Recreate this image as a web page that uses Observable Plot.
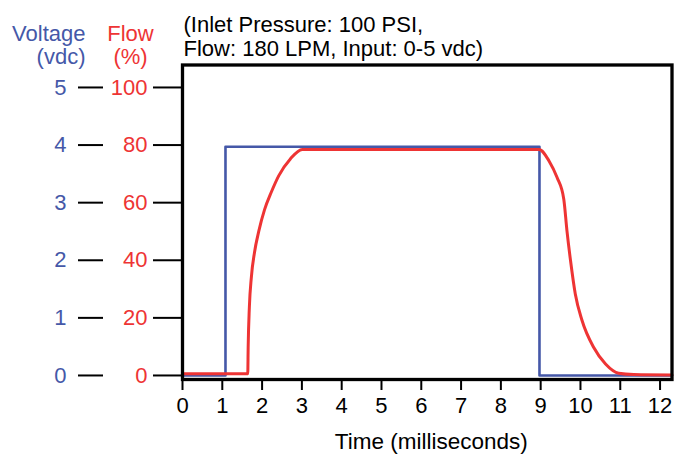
<!DOCTYPE html>
<html>
<head>
<meta charset="utf-8">
<script src="https://cdn.jsdelivr.net/npm/d3@7"></script>
<script src="https://cdn.jsdelivr.net/npm/@observablehq/plot@0.6"></script>
<style>
  html, body { margin: 0; padding: 0; background: #fff; }
  #chart { width: 674px; height: 455px; }
</style>
</head>
<body>
<div id="chart"></div>
<script>
// ---- data ----
const voltTime = [0, 1.08, 1.08, 8.97, 8.97, 12.3];           // ms
const voltValue = [0, 0, 3.97, 3.97, 0, 0];                    // vdc

const flowTime = [0, 1.64, 1.65, 1.68, 1.73, 1.81, 1.92, 2.06, 2.23, 2.42, 2.71, 3.01,
                  8.96, 9.21, 9.41, 9.58, 9.66, 9.75, 9.87, 10.04, 10.33, 10.63, 10.96, 11.34, 12.3];
const flowValue = [0.6, 0.6, 9.8, 23.7, 34.1, 42.8, 50.3, 57.5, 63.6, 69.4, 75.2, 78.5,
                   78.5, 74.5, 68.8, 61.3, 50.3, 39.9, 28.3, 19.1, 9.8, 4.0, 0.8, 0.35, 0.2];

const xTicks = [0, 1, 2, 3, 4, 5, 6, 7, 8, 9, 10, 11, 12];
const flowTicks = [0, 20, 40, 60, 80, 100];
const voltPerFlow = 5 / 100;   // 5 vdc = 100 %

const titleText = ["(Inlet Pressure: 100 PSI,\nFlow: 180 LPM, Input: 0-5 vdc)"];
const voltLabel = ["Voltage\n(vdc)"];
const flowLabel = ["Flow\n(%)"];
const xLabel = ["Time (milliseconds)"];

// ---- build ----
const BLUE = "#4558a8";
const RED = "#ee3434";
const FONT = "'Liberation Sans', Arial, Helvetica, sans-serif";
const FS = 22;

const volt = voltTime.map((t, i) => ({t, v: voltValue[i]}));
const flow = flowTime.map((t, i) => ({t, f: flowValue[i]}));

const chart = Plot.plot({
  width: 674,
  height: 455,
  marginLeft: 182,
  marginRight: 2.5,
  marginTop: 64.5,
  marginBottom: 76,
  style: {fontFamily: FONT, fontSize: FS + "px", background: "#fff", color: "#000"},
  x: {domain: [0, 12.3]},
  y: {domain: [-1.4, 107.8]},
  marks: [
    Plot.line(volt, {x: "t", y: d => d.v / voltPerFlow, stroke: BLUE, strokeWidth: 2.6}),
    Plot.line(flow, {x: "t", y: "f", stroke: RED, strokeWidth: 3, curve: "monotone-x"}),
    Plot.frame({stroke: "#000", strokeWidth: 3.3}),
    Plot.axisX(xTicks, {tickSize: 11, tickPadding: 7, strokeWidth: 2, stroke: "#000", fill: "#000", label: null, fontSize: FS}),
    Plot.axisY(flowTicks, {anchor: "left", tickSize: 29, tickPadding: 6, strokeWidth: 2, stroke: "#000", fill: RED, label: null, fontSize: FS}),
    Plot.axisY(flowTicks, {anchor: "left", dx: -79, tickSize: 25, tickPadding: 12, strokeWidth: 2, stroke: "#000", fill: BLUE, label: null, fontSize: FS, tickFormat: d => d * voltPerFlow}),
    Plot.text(titleText, {text: d => d, frameAnchor: "top-left", textAnchor: "start", lineAnchor: "top", dx: 1, dy: -49.6, lineHeight: 24 / FS, fontSize: FS, fill: "#000"}),
    Plot.text(voltLabel, {text: d => d, frameAnchor: "top-left", textAnchor: "end", lineAnchor: "top", dx: -97, dy: -41.1, lineHeight: 23.5 / FS, fontSize: FS, fill: BLUE}),
    Plot.text(flowLabel, {text: d => d, frameAnchor: "top-left", textAnchor: "middle", lineAnchor: "top", dx: -52, dy: -41.1, lineHeight: 23.5 / FS, fontSize: FS, fill: RED}),
    Plot.text(xLabel, {text: d => d, frameAnchor: "bottom", textAnchor: "middle", lineAnchor: "top", dx: 4, dy: 53.4, fontSize: 22.5, fill: "#000"})
  ]
});
document.getElementById("chart").appendChild(chart);
</script>
</body>
</html>
